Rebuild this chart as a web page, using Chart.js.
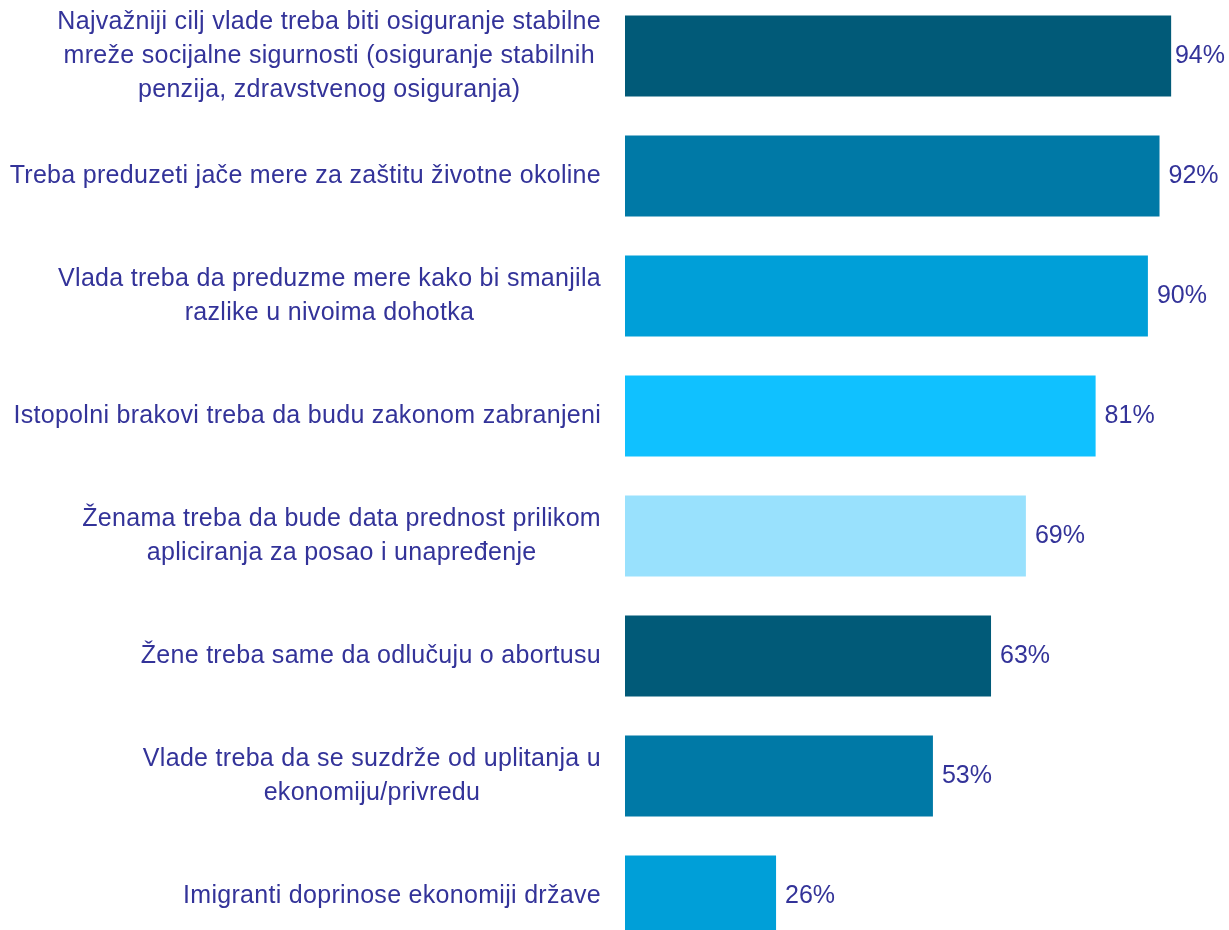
<!DOCTYPE html>
<html>
<head>
<meta charset="utf-8">
<script src="https://cdn.jsdelivr.net/npm/chart.js@4/dist/chart.umd.min.js"></script>
<style>
html,body{margin:0;padding:0;background:#fff;overflow:hidden;width:1229px;height:930px;}
#wrap{position:absolute;left:0;top:-4px;width:1229px;height:960px;}
</style>
</head>
<body>
<div id="wrap"><canvas id="c" width="1229" height="960"></canvas></div>
<script>
const categories = [
  ["Najvažniji cilj vlade treba biti osiguranje stabilne", "mreže socijalne sigurnosti (osiguranje stabilnih", "penzija, zdravstvenog osiguranja)"],
  ["Treba preduzeti jače mere za zaštitu životne okoline"],
  ["Vlada treba da preduzme mere kako bi smanjila", "razlike u nivoima dohotka"],
  ["Istopolni brakovi treba da budu zakonom zabranjeni"],
  ["Ženama treba da bude data prednost prilikom", "apliciranja za posao i unapređenje"],
  ["Žene treba same da odlučuju o abortusu"],
  ["Vlade treba da se suzdrže od uplitanja u", "ekonomiju/privredu"],
  ["Imigranti doprinose ekonomiji države"]
];
const values = [94, 92, 90, 81, 69, 63, 53, 26];
const barColors = ["#015a78", "#0079a6", "#009fd8", "#10c1ff", "#99e1fd", "#015a78", "#0079a6", "#009fd8"];

const FONT = '25px "Liberation Sans", Arial, sans-serif';
const TEXT = '#333399';

const labelPlugin = {
  id: 'labels',
  afterDraw(chart) {
    const ctx = chart.ctx;
    const meta = chart.getDatasetMeta(0);
    const ys = chart.scales.y;
    ctx.save();
    ctx.font = FONT;
    ctx.fillStyle = TEXT;
    ctx.textBaseline = 'middle';
    const lineH = 34;
    const rightEdge = chart.chartArea.left - 24;
    categories.forEach((lines, i) => {
      ctx.letterSpacing = '0.3px';
      const cy = ys.getPixelForValue(i);
      let w = 0;
      lines.forEach(l => { w = Math.max(w, ctx.measureText(l).width); });
      const cx = rightEdge - w / 2;
      ctx.textAlign = 'center';
      const y0 = cy - (lines.length - 1) * lineH / 2;
      lines.forEach((l, k) => ctx.fillText(l, cx, y0 + k * lineH));
      ctx.letterSpacing = '0px';
      const bar = meta.data[i];
      const txt = values[i] + '%';
      const tw = ctx.measureText(txt).width;
      let x = bar.x + 9;
      if (x + tw > chart.width - 4) x = chart.width - 4 - tw;
      ctx.textAlign = 'left';
      ctx.fillText(txt, x, cy);
    });
    ctx.restore();
  }
};

new Chart(document.getElementById('c'), {
  type: 'bar',
  data: {
    labels: categories,
    datasets: [{
      data: values,
      backgroundColor: barColors,
      borderWidth: 0,
      barPercentage: 0.675,
      categoryPercentage: 1.0
    }]
  },
  options: {
    indexAxis: 'y',
    responsive: false,
    animation: false,
    layout: { padding: { left: 625, right: 23, top: 0, bottom: 0 } },
    scales: {
      x: { display: false, min: 0, max: 100 },
      y: { display: false }
    },
    plugins: { legend: { display: false }, tooltip: { enabled: false } }
  },
  plugins: [labelPlugin]
});
</script>
</body>
</html>
